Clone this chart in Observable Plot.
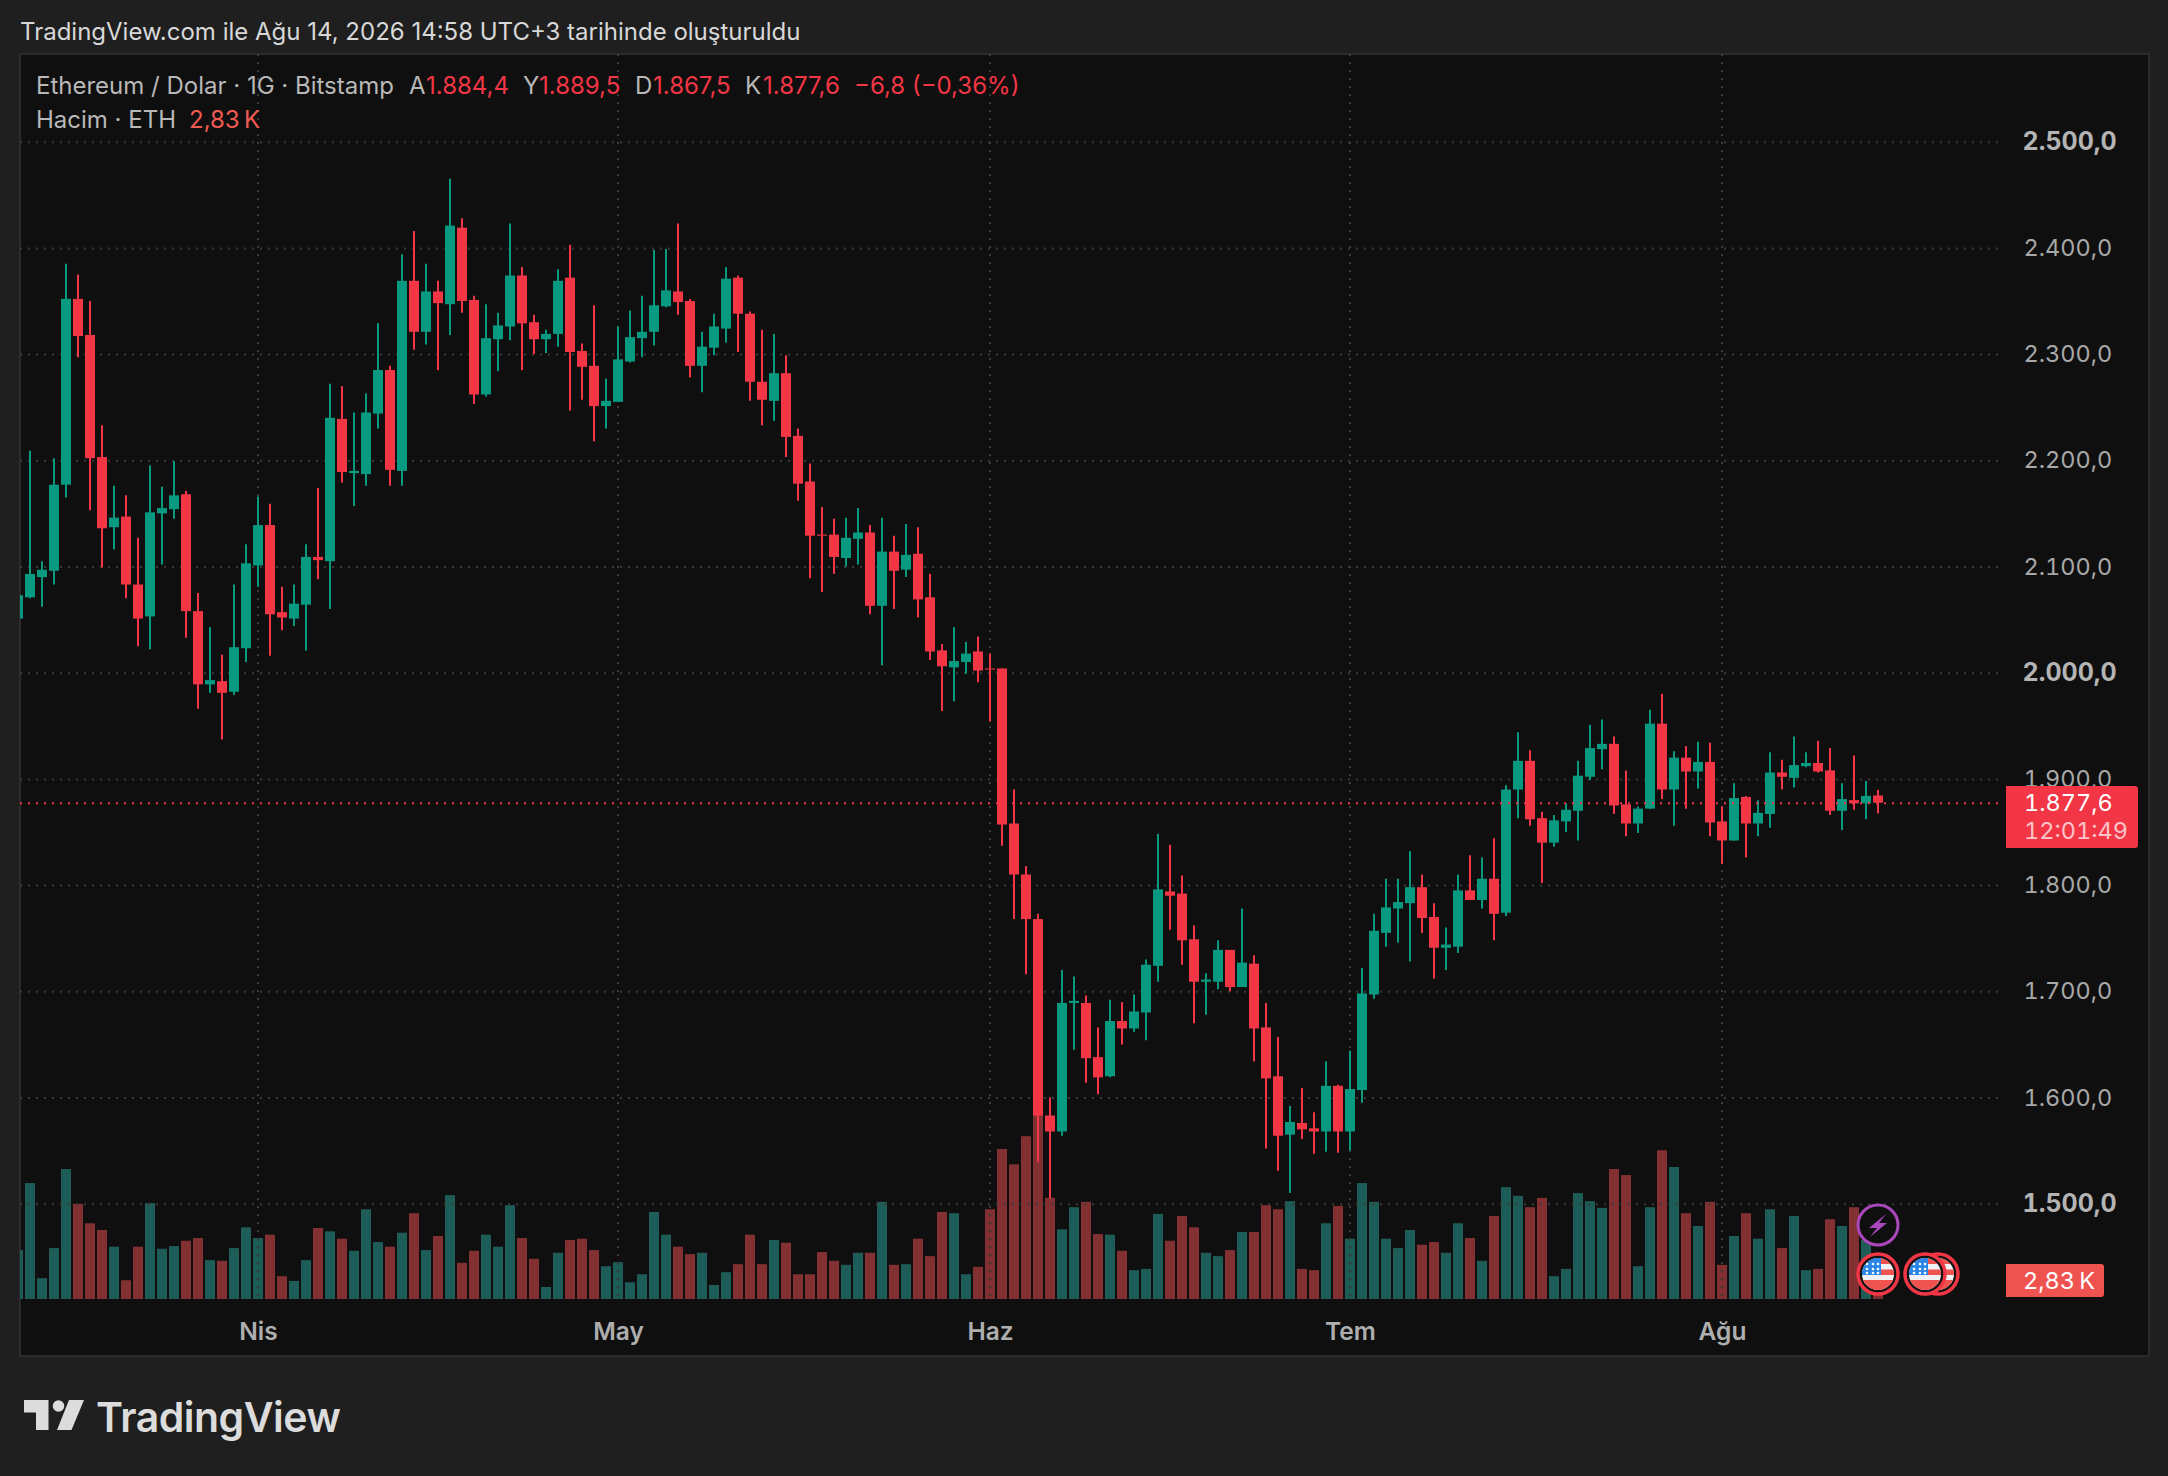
<!DOCTYPE html>
<html lang="tr">
<head>
<meta charset="utf-8">
<title>Ethereum / Dolar</title>
<script src="https://cdn.jsdelivr.net/npm/d3@7"></script>
<script src="https://cdn.jsdelivr.net/npm/@observablehq/plot@0.6"></script>
<style>
  html,body{margin:0;padding:0;background:#1f1f1f;}
  body{position:relative;width:2168px;height:1476px;overflow:hidden;font-family:Inter,"Noto Sans",sans-serif;font-variant-numeric:tabular-nums;}
  .abs{position:absolute;white-space:nowrap;}
  #pane{position:absolute;left:19px;top:53px;width:2131px;height:1304px;box-sizing:border-box;background:#0f0f0f;border:2px solid #2b2b2b;}
  #volLayer,#priceLayer{position:absolute;left:0;top:0;}
  #volLayer svg,#priceLayer svg{display:block;}
  .leg{font-size:24px;color:#b8b8b8;line-height:30px;font-variant-numeric:normal;}
  .red{color:#f23645;}
</style>
</head>
<body>
<div id="pane"></div>
<div id="volLayer"></div>
<div id="priceLayer"></div>

<div class="abs" style="left:20px;top:17px;font-size:24px;line-height:30px;color:#d8d8d8;font-variant-numeric:normal;">TradingView.com ile Ağu 14, 2026 14:58 UTC+3 tarihinde oluşturuldu</div>

<div class="abs leg" style="left:36px;top:71px;">Ethereum / Dolar · 1G · Bitstamp</div>
<div class="abs leg" style="left:409px;top:71px;">A</div><div class="abs leg red" style="left:426px;top:71px;">1.884,4</div>
<div class="abs leg" style="left:523px;top:71px;">Y</div><div class="abs leg red" style="left:539px;top:71px;">1.889,5</div>
<div class="abs leg" style="left:635px;top:71px;">D</div><div class="abs leg red" style="left:653px;top:71px;">1.867,5</div>
<div class="abs leg" style="left:745px;top:71px;">K</div><div class="abs leg red" style="left:763px;top:71px;">1.877,6</div>
<div class="abs leg red" style="left:854px;top:71px;">−6,8 (−0,36%)</div>
<div class="abs leg" style="left:36px;top:105px;">Hacim · ETH</div>
<div class="abs leg" style="left:189px;top:105px;color:#f15b52;">2,83&#8201;K</div>

<div class="abs" style="left:2006px;top:786px;width:132px;height:62px;background:#f23645;border-radius:0 3px 3px 0;"></div>
<div class="abs" style="left:2024px;top:791px;font-size:23.5px;line-height:24px;color:#fff;">1.877,6</div>
<div class="abs" style="left:2024px;top:819px;font-size:23.5px;line-height:24px;color:#fbc3c8;">12:01:49</div>
<div class="abs" style="left:2006px;top:1264px;width:98px;height:33px;background:#ef5350;border-radius:0 3px 3px 0;"></div>
<div class="abs" style="left:2023px;top:1266px;font-size:23.5px;line-height:30px;color:#fff;">2,83&#8201;K</div>

<svg class="abs" style="left:1850px;top:1201px;" width="110" height="100" viewBox="0 0 110 100">
  <defs>
    <clipPath id="fc"><circle cx="0" cy="0" r="16"/></clipPath>
    <g id="flag">
      <circle r="20" fill="#131313" stroke="#f23645" stroke-width="3.5"/>
      <g clip-path="url(#fc)">
        <rect x="-16" y="-16" width="32" height="32" fill="#f1f1f4"/>
        <rect x="-16" y="-16" width="32" height="6" fill="#ef5350"/>
        <rect x="-16" y="-4.5" width="32" height="5.5" fill="#ef5350"/>
        <rect x="-16" y="6" width="32" height="11" fill="#ef5350"/>
        <rect x="-16" y="-16" width="19" height="17" fill="#2a86e8"/>
        <g fill="#fff">
          <circle cx="-11" cy="-10" r="1.3"/><circle cx="-5" cy="-10" r="1.3"/><circle cx="0" cy="-10" r="1.3"/>
          <circle cx="-11" cy="-5" r="1.3"/><circle cx="-5" cy="-5" r="1.3"/><circle cx="0" cy="-5" r="1.3"/>
          <circle cx="-11" cy="-1" r="1.3"/><circle cx="-5" cy="-1" r="1.3"/><circle cx="0" cy="-1" r="1.3"/>
        </g>
      </g>
    </g>
  </defs>
  <circle cx="28" cy="24" r="20" fill="#0f0f0f" stroke="#ab47bc" stroke-width="3"/>
  <path d="M36 13 L19 27 L27 27 L20 36 L37 22 L29 22 Z" fill="#ab47bc"/>
  <use href="#flag" x="28" y="73"/>
  <use href="#flag" x="88" y="73"/>
  <use href="#flag" x="75" y="73"/>
</svg>

<svg class="abs" style="left:24px;top:1400px;" width="60" height="30" viewBox="0 0 60 30">
  <path d="M0 0H24.5V30H12V12.5H0Z" fill="#dcdcdc"/>
  <circle cx="34.5" cy="6" r="5.8" fill="#dcdcdc"/>
  <path d="M45 0H60L47.5 30H33Z" fill="#dcdcdc"/>
</svg>
<div class="abs" style="left:96px;top:1393px;font-size:41px;line-height:48px;font-weight:600;letter-spacing:-0.5px;color:#dcdcdc;font-variant-numeric:normal;">TradingView</div>

<script>
const firstDay = "2026-03-12";
const open = [
2051,2071,2090,2096,2177,2352,2318,2203,2137,2147,
2083,2053,2150,2154,2168,2058,1989,1992,1982,2023,
2101,2139,2057,2051,2064,2109,2105,2239,2188,2187,
2244,2285,2190,2369,2321,2359,2347,2419,2351,2262,
2314,2326,2374,2330,2314,2319,2372,2303,2289,2251,
2255,2293,2315,2321,2345,2359,2350,2289,2306,2324,
2372,2338,2274,2256,2282,2223,2180,2130,2130,2108,
2126,2132,2063,2114,2097,2112,2071,2021,2005,2010,
2020,2004,2004,1858,1810,1768,1583,1568,1689,1689,
1638,1620,1672,1665,1680,1724,1794,1792,1749,1709,
1709,1739,1704,1726,1666,1620,1565,1576,1571,1568,
1611,1568,1607,1697,1755,1778,1783,1798,1770,1741,
1742,1795,1786,1806,1774,1890,1917,1863,1840,1860,
1870,1902,1928,1933,1876,1858,1872,1952,1890,1920,
1907,1916,1860,1842,1883,1858,1867,1906,1901,1912,
1915,1908,1870,1880,1877,1884.4];
const high = [
2073,2209,2105,2202,2385,2375,2350,2233,2176,2167,
2127,2195,2175,2199,2171,2075,2043,2017,2083,2121,
2166,2159,2081,2083,2121,2174,2272,2270,2245,2263,
2329,2289,2394,2416,2385,2369,2465,2428,2355,2347,
2339,2423,2382,2337,2323,2380,2403,2310,2346,2277,
2326,2341,2355,2398,2399,2423,2352,2321,2338,2382,
2374,2340,2323,2319,2299,2230,2197,2156,2145,2146,
2155,2139,2146,2129,2140,2137,2093,2027,2043,2029,
2034,2018,2004,1890,1818,1773,1600,1720,1714,1696,
1666,1692,1690,1697,1730,1848,1838,1809,1762,1717,
1748,1739,1778,1734,1689,1657,1592,1609,1586,1634,
1612,1644,1722,1773,1806,1806,1832,1810,1783,1760,
1810,1828,1826,1844,1894,1944,1927,1869,1866,1877,
1917,1951,1956,1940,1908,1874,1965,1980,1926,1931,
1935,1934,1874,1896,1884,1880,1925,1918,1940,1925,
1936,1929,1896,1922,1898,1889.5];
const low = [
2051,2070,2062,2083,2165,2297,2153,2099,2116,2070,
2025,2022,2102,2145,2033,1966,1981,1937,1979,2010,
2081,2016,2040,2044,2021,2088,2060,2179,2157,2176,
2230,2176,2176,2304,2309,2285,2318,2339,2253,2260,
2284,2313,2285,2300,2301,2307,2247,2257,2218,2230,
2255,2292,2297,2308,2344,2337,2278,2264,2299,2311,
2302,2256,2233,2237,2203,2162,2089,2076,2093,2100,
2102,2055,2007,2060,2090,2052,2012,1964,1973,1999,
1991,1954,1837,1768,1716,1539,1505,1564,1645,1614,
1603,1619,1650,1662,1654,1709,1758,1725,1670,1678,
1702,1700,1704,1634,1552,1531,1510,1561,1547,1549,
1548,1550,1595,1693,1742,1746,1728,1755,1712,1720,
1736,1786,1778,1748,1771,1863,1856,1802,1836,1850,
1842,1899,1909,1867,1846,1849,1872,1881,1856,1872,
1891,1846,1820,1842,1826,1846,1854,1890,1892,1911,
1906,1866,1852,1871,1862,1867.5];
const close = [
2073,2093,2097,2177,2352,2317,2202,2136,2146,2083,
2051,2151,2155,2167,2058,1989,1993,1981,2024,2103,
2139,2055,2052,2065,2109,2106,2240,2189,2190,2245,
2285,2191,2369,2321,2359,2348,2421,2350,2262,2315,
2327,2374,2329,2314,2319,2369,2302,2288,2251,2256,
2295,2316,2321,2346,2360,2349,2289,2307,2326,2371,
2338,2274,2257,2282,2222,2178,2129,2129,2109,2127,
2132,2063,2114,2096,2111,2069,2020,2006,2011,2018,
2002,2003,1857,1810,1768,1583,1568,1689,1691,1637,
1619,1672,1665,1681,1725,1796,1790,1748,1709,1711,
1739,1704,1727,1665,1618,1564,1577,1570,1568,1611,
1568,1608,1698,1757,1779,1784,1798,1769,1741,1744,
1795,1786,1806,1773,1890,1917,1862,1840,1861,1871,
1903,1929,1933,1875,1858,1872,1952,1890,1920,1907,
1916,1859,1842,1882,1858,1868,1906,1902,1913,1915,
1907,1870,1881,1877,1884,1877.6];
const volumeK = [
7.3,17.3,3.1,7.6,19.4,14.2,11.3,10.3,7.8,2.8,
7.8,14.3,7.5,7.9,8.7,9.1,5.8,5.7,7.6,10.7,
9.1,9.6,3.4,2.7,5.8,10.6,10.1,9.0,7.2,13.4,
8.5,7.8,9.9,12.8,7.3,9.4,15.5,5.4,7.2,9.6,
7.8,14.0,9.1,6.0,1.8,6.9,8.8,9.0,7.3,4.9,
5.5,2.5,3.7,13.0,9.6,7.8,6.7,6.9,2.1,4.0,
5.2,9.6,5.2,8.8,8.4,3.7,3.7,7.0,5.7,5.1,
6.9,6.9,14.5,5.1,5.2,9.0,6.4,13.0,12.8,3.7,
4.8,13.4,22.4,20.1,24.3,27.5,15.1,10.4,13.7,14.5,
9.7,9.6,7.2,4.3,4.5,12.7,8.7,12.4,10.7,6.9,
6.4,7.3,10.0,10.0,14.0,13.4,14.6,4.5,4.3,11.3,
13.9,9.0,17.3,14.5,9.0,7.6,10.3,8.1,8.5,6.9,
11.3,9.1,5.7,12.4,16.7,15.4,13.7,15.1,3.4,4.5,
15.8,14.6,13.6,19.4,18.5,4.9,13.7,22.2,19.7,12.8,
10.9,14.5,5.1,9.4,12.8,9.0,13.4,7.6,12.4,4.3,
4.5,11.9,10.9,13.7,8.8,2.83];

const priceTicks = [2500,2400,2300,2200,2100,2000,1900,1800,1700,1600,1500];
const boldTicks = [2500,2000,1500];
const monthTicks = ["2026-04-01","2026-05-01","2026-06-01","2026-07-01","2026-08-01"];
const monthLabels = ["Nis","May","Haz","Tem","Ağu"];
const lastPrice = 1877.6;

const DAY = 864e5, HALF_BODY = 10/24*DAY;
const t0 = +new Date(firstDay+"T00:00:00Z");
const rows = open.map((o,i)=>({
  date:new Date(t0+i*DAY), left:new Date(t0+i*DAY-HALF_BODY), right:new Date(t0+i*DAY+HALF_BODY),
  open:o, high:high[i], low:low[i], close:close[i], volume:volumeK[i], up:close[i]>=o
}));
const upRows = rows.filter(d=>d.up), downRows = rows.filter(d=>!d.up);

const frame = {width:2168,height:1476,marginLeft:20,marginRight:21,marginTop:54,marginBottom:120,
  style:{background:"transparent",overflow:"visible"}};
const xOpt = {type:"utc",domain:[new Date("2026-03-12T04:00:00Z"),new Date("2026-09-05T10:00:00Z")],range:[20,2147],axis:null};
const gridEnd = new Date("2026-08-24T04:00:00Z");
const UP="#089981", DOWN="#f23645", GRID="#3a3a3a";

document.getElementById("volLayer").append(Plot.plot({...frame,x:xOpt,
  y:{domain:[0,10],range:[1299,1232],axis:null},
  marks:[
    Plot.rect(upRows,{x1:"left",x2:"right",y1:0,y2:"volume",fill:"#1e5c57",clip:true}),
    Plot.rect(downRows,{x1:"left",x2:"right",y1:0,y2:"volume",fill:"#823032",clip:true})
  ]}));

const monthDates = monthTicks.map(d=>new Date(d+"T00:00:00Z"));
const fmt = v=>{const s=String(v);return s[0]+"."+s.slice(1)+",0";};
const wick=(data,c)=>Plot.ruleX(data,{x:"date",y1:"low",y2:"high",stroke:c,strokeWidth:2,dx:-0.5,clip:true});
const body=(data,c)=>Plot.rect(data,{x1:"left",x2:"right",y1:"open",y2:"close",fill:c,clip:true});

document.getElementById("priceLayer").append(Plot.plot({...frame,x:xOpt,
  y:{domain:[2500,1500],range:[141.7,1203.7],axis:null},
  marks:[
    Plot.ruleY(priceTicks,{x1:xOpt.domain[0],x2:gridEnd,stroke:GRID,strokeWidth:2,strokeDasharray:"2,6"}),
    Plot.ruleX(monthDates,{y1:2582.6,y2:1410.3,stroke:GRID,strokeWidth:2,strokeDasharray:"2,6",dx:-0.5}),
    wick(upRows,UP),wick(downRows,DOWN),
    body(upRows,UP),body(downRows,DOWN),
    Plot.ruleY([lastPrice],{x1:xOpt.domain[0],x2:gridEnd,stroke:DOWN,strokeWidth:2,strokeDasharray:"2,6"}),
    Plot.text(priceTicks.filter(t=>!boldTicks.includes(t)),{y:d=>d,text:fmt,frameAnchor:"right",dx:-124,textAnchor:"start",fontSize:23.5,fontFamily:"Inter",fill:"#a8a8a8"}),
    Plot.text(boldTicks,{y:d=>d,text:fmt,frameAnchor:"right",dx:-125,textAnchor:"start",fontSize:25,fontWeight:700,fontFamily:"Inter",fill:"#b4b4b4"}),
    Plot.text(monthDates,{x:d=>d,text:(d,i)=>monthLabels[i],frameAnchor:"bottom",dy:-17,fontSize:24.5,fontWeight:600,fontFamily:"Inter",fill:"#aeaeae"})
  ]}));
</script>
</body>
</html>
